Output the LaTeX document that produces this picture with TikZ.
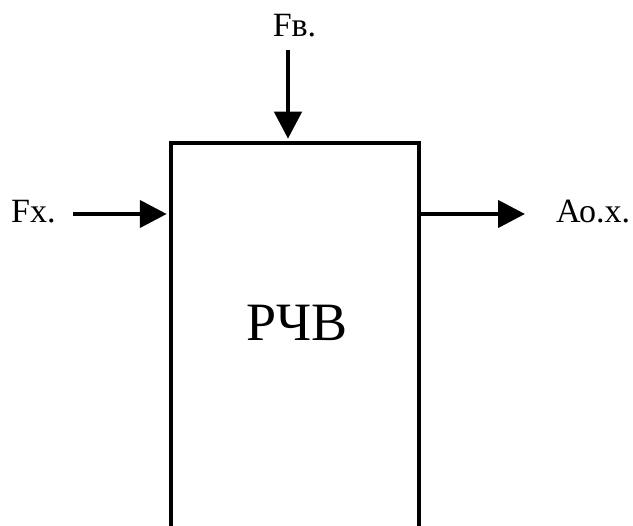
\documentclass[tikz,border=0pt]{standalone}
\usepackage{fontspec}
\setmainfont{Liberation Serif}
\usetikzlibrary{arrows.meta,positioning,calc}

\begin{document}
\begin{tikzpicture}[x=1pt,y=-1pt,>={Triangle[length=27pt,width=27pt]},
  flow/.style={->,line width=4.5pt,shorten >=2pt},
  lbl/.style={inner sep=0pt,anchor=base west,font=\fontsize{34}{40}\selectfont}]
  \useasboundingbox (0,0) rectangle (633,526);
  % the block (its bottom runs off the page)
  \node[draw,line width=4.5pt,minimum width=248pt,minimum height=440pt,inner sep=0pt] (rchv) at (295,363) {};
  \node[inner sep=0pt,anchor=base,font=\fontsize{54}{60}\selectfont] (rchvname) at (297,341) {РЧВ};
  % inputs and output
  \node[lbl,anchor=base] (fv) at (294.5,37) {Fв.};
  \node[lbl] (fx) at (11,223) {Fх.};
  \node[lbl] (aox) at (556,223) {Ао.х.};
  \coordinate (fvstart) at (288,50);
  \coordinate (fxstart) at (73,214);
  \coordinate (aoxend) at (527,214);
  \draw[flow] (fvstart) -- (fvstart |- rchv.north);
  \draw[flow] (fxstart) -- (fxstart -| rchv.west);
  \draw[flow] (aoxend -| rchv.east) -- (aoxend);
\end{tikzpicture}
\end{document}
